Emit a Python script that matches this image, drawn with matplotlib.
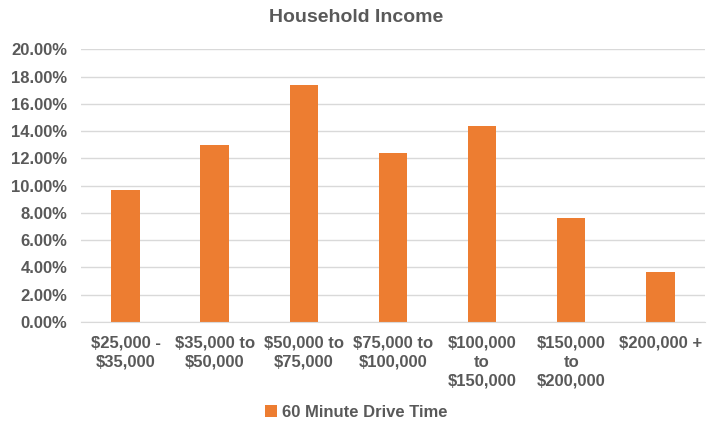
import matplotlib.pyplot as plt
from matplotlib.ticker import PercentFormatter

categories = ['$25,000 -\n$35,000', '$35,000 to\n$50,000', '$50,000 to\n$75,000',
              '$75,000 to\n$100,000', '$100,000\nto\n$150,000', '$150,000\nto\n$200,000',
              '$200,000 +']
drive_60 = [9.7, 13.0, 17.4, 12.4, 14.4, 7.6, 3.7]

plt.rcParams['font.family'] = ['Liberation Sans', 'DejaVu Sans']
text_color = '#595959'
bar_color = '#ED7D31'

fig = plt.figure(figsize=(7.12, 4.28), dpi=100)
ax = fig.add_axes([0.1138, 0.2477, 0.8762, 0.6371])

x = range(len(categories))
ax.bar(x, drive_60, width=0.32, color=bar_color, label='60 Minute Drive Time', zorder=3)

ax.set_ylim(0, 20)
ax.set_xlim(-0.5, len(categories) - 0.5)
ax.set_yticks(range(0, 21, 2))
ax.yaxis.set_major_formatter(PercentFormatter(decimals=2))
ax.grid(axis='y', color='#d9d9d9', linewidth=1, zorder=0)
for s in ['top', 'right', 'left']:
    ax.spines[s].set_visible(False)
ax.spines['bottom'].set_color('#d9d9d9')
ax.spines['bottom'].set_zorder(4)
ax.tick_params(axis='y', length=0, labelsize=12, labelcolor=text_color, pad=10)
ax.tick_params(axis='x', length=0, labelsize=12, labelcolor=text_color, pad=10)
ax.set_xticks(list(x))
ax.set_xticklabels(categories, fontweight='bold', linespacing=1.33, va='top')
for lbl in ax.get_yticklabels():
    lbl.set_fontweight('bold')

fig.text(0.5, 0.958, 'Household Income', ha='center', va='center',
         fontsize=14, fontweight='bold', color=text_color)

leg = fig.legend(loc='center', bbox_to_anchor=(0.5, 0.037), frameon=False,
                 handlelength=0.75, handleheight=0.75, handletextpad=0.25,
                 prop={'size': 12, 'weight': 'bold'})
for t in leg.get_texts():
    t.set_color(text_color)

plt.savefig('out.png', dpi=100)
